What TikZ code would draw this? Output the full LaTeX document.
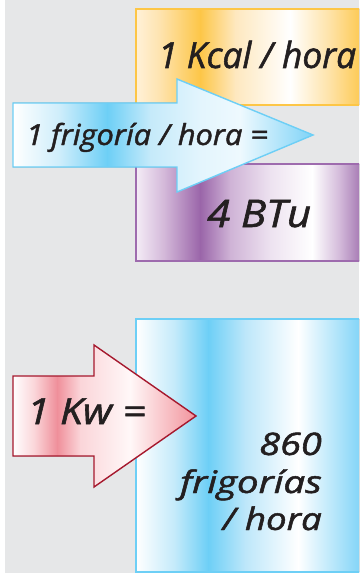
\documentclass[tikz,border=0pt]{standalone}
\usepackage{fontspec}
\setmainfont{Open Sans}
\newfontfamily\labelfont{Open Sans}[FakeBold=1.5]

% palette
\definecolor{bggray}{HTML}{E6E7E8}
\definecolor{inkblack}{HTML}{231F20}
\definecolor{orLine}{HTML}{FDC646}
\definecolor{orA}{HTML}{FFF1D8}
\definecolor{orB}{HTML}{FEE3AE}
\definecolor{orC}{HTML}{FDC647}
\definecolor{orD}{HTML}{FEE8BF}
\definecolor{orE}{HTML}{FEE2A6}
\definecolor{puLine}{HTML}{9E6BAE}
\definecolor{puA}{HTML}{F4ECF6}
\definecolor{puB}{HTML}{D2B6D8}
\definecolor{puC}{HTML}{9A65A9}
\definecolor{puD}{HTML}{CFB3D6}
\definecolor{puE}{HTML}{EDE2F0}
\definecolor{puF}{HTML}{D2B8D9}
\definecolor{puG}{HTML}{A274B0}
\definecolor{blLine}{HTML}{6DCFF6}
\definecolor{blA}{HTML}{CDEDFB}
\definecolor{blB}{HTML}{6DCFF6}
\definecolor{blC}{HTML}{C5EAFA}
\definecolor{blD}{HTML}{E3F5FD}
\definecolor{blE}{HTML}{EEF9FE}
\definecolor{blF}{HTML}{7ED3F7}
\definecolor{blG}{HTML}{C3EAFA}
\definecolor{blH}{HTML}{BDE7FA}
\definecolor{rdLine}{HTML}{A6192E}
\definecolor{rdA}{HTML}{FAD3D7}
\definecolor{rdB}{HTML}{EF8F9A}
\definecolor{rdC}{HTML}{FBD5D9}
\definecolor{rdD}{HTML}{FFF8F8}
\definecolor{rdE}{HTML}{F2939C}

\tikzset{
  labeltext/.style={inner sep=0pt, text=inkblack},
  frame/.style={line width=1.4pt, line join=miter},
}

% vertical colour bands: #1 top, #2 bottom, #3 segments x1/c1/x2/c2
\newcommand\bandfill[3]{%
  \foreach \xa/\ca/\xb/\cb in {#3} {
    \fill[left color=\ca, right color=\cb] (\xa,#1) rectangle (\xb+0.4,#2);
  }}
\newcommand\lblsize[1]{\labelfont\itshape\fontsize{#1}{1.2\dimexpr#1pt\relax}\selectfont}
% italic label, widened horizontally: #1 size, #2 widening, #3 text
\newcommand\widetext[3]{{\lblsize{#1}\scalebox{#2}[1]{#3}}}

\begin{document}
\begin{tikzpicture}[x=1pt,y=-1pt]
\useasboundingbox (0,0) rectangle (359,575);
\clip (0,0) rectangle (359,575);
\fill[white] (0,0) rectangle (359,575);
\fill[bggray] (5,0) rectangle (359,573);

% orange box
\begin{scope}
  \clip (136,9) rectangle (370,105);
  \bandfill{9}{105}{136/orA/160/orB, 160/orB/200/orC, 200/orC/235/orD,
    235/orD/290/white, 290/white/330/orE, 330/orE/365/orC}
\end{scope}
\draw[frame, orLine] (136,9) rectangle (370,105);

% purple box
\begin{scope}
  \clip (136,164) rectangle (370,261);
  \bandfill{164}{261}{136/puA/165/puB, 165/puB/200/puC, 200/puC/230/puD,
    230/puD/270/puE, 270/puE/312/white, 312/white/340/puF, 340/puF/362/puG}
\end{scope}
\draw[frame, puLine] (136,164) rectangle (370,261);

% upper arrow
\def\upperarrow{(13,103) -- (177,103) -- (177,79) -- (313,135) -- (177,192) -- (177,167) -- (13,167) -- cycle}
\begin{scope}
  \clip \upperarrow;
  \bandfill{79}{192}{13/white/60/blA, 60/blA/107/blB, 107/blB/150/blC,
    150/blC/200/blD, 200/blD/240/blE, 240/blE/313/blF}
\end{scope}
\draw[frame, blLine] \upperarrow;

% large blue box
\begin{scope}
  \clip (136,319) rectangle (370,572);
  \bandfill{319}{572}{136/white/175/blG, 175/blG/208/blB, 208/blB/245/blH,
    245/blH/298/white, 298/white/362/blF}
\end{scope}
\draw[frame, blLine] (136,319) rectangle (370,572);

% lower arrow
\def\lowerarrow{(13,376) -- (94,376) -- (94,345) -- (196,416) -- (94,487) -- (94,456) -- (13,456) -- cycle}
\begin{scope}
  \clip \lowerarrow;
  \bandfill{345}{487}{13/white/35/rdA, 35/rdA/57/rdB, 57/rdB/80/rdC,
    80/rdC/130/rdD, 130/rdD/196/rdE}
\end{scope}
\draw[frame, rdLine] \lowerarrow;

% labels
\node[labeltext, anchor=base west] (kcal) at (158,68) {\widetext{36}{0.98}{1 Kcal / hora}};
\node[labeltext, anchor=base west] (frig) at (26,145) {\widetext{29}{1.06}{1 frigoría / hora =}};
\node[labeltext, anchor=base west] (btu) at (207,227) {\widetext{38}{1.10}{4 BTu}};
\node[labeltext, anchor=base west] (kw) at (27,424) {\widetext{36}{1.13}{1 Kw =}};
\node[labeltext, anchor=base east] (n860) at (322,455) {\widetext{31}{1.22}{860}};
\node[labeltext, anchor=base east] (frigs) at (322,493) {\widetext{31}{1.24}{frigorías}};
\node[labeltext, anchor=base east] (perh) at (322,530) {\widetext{31}{1.18}{/ hora}};
\end{tikzpicture}
\end{document}
